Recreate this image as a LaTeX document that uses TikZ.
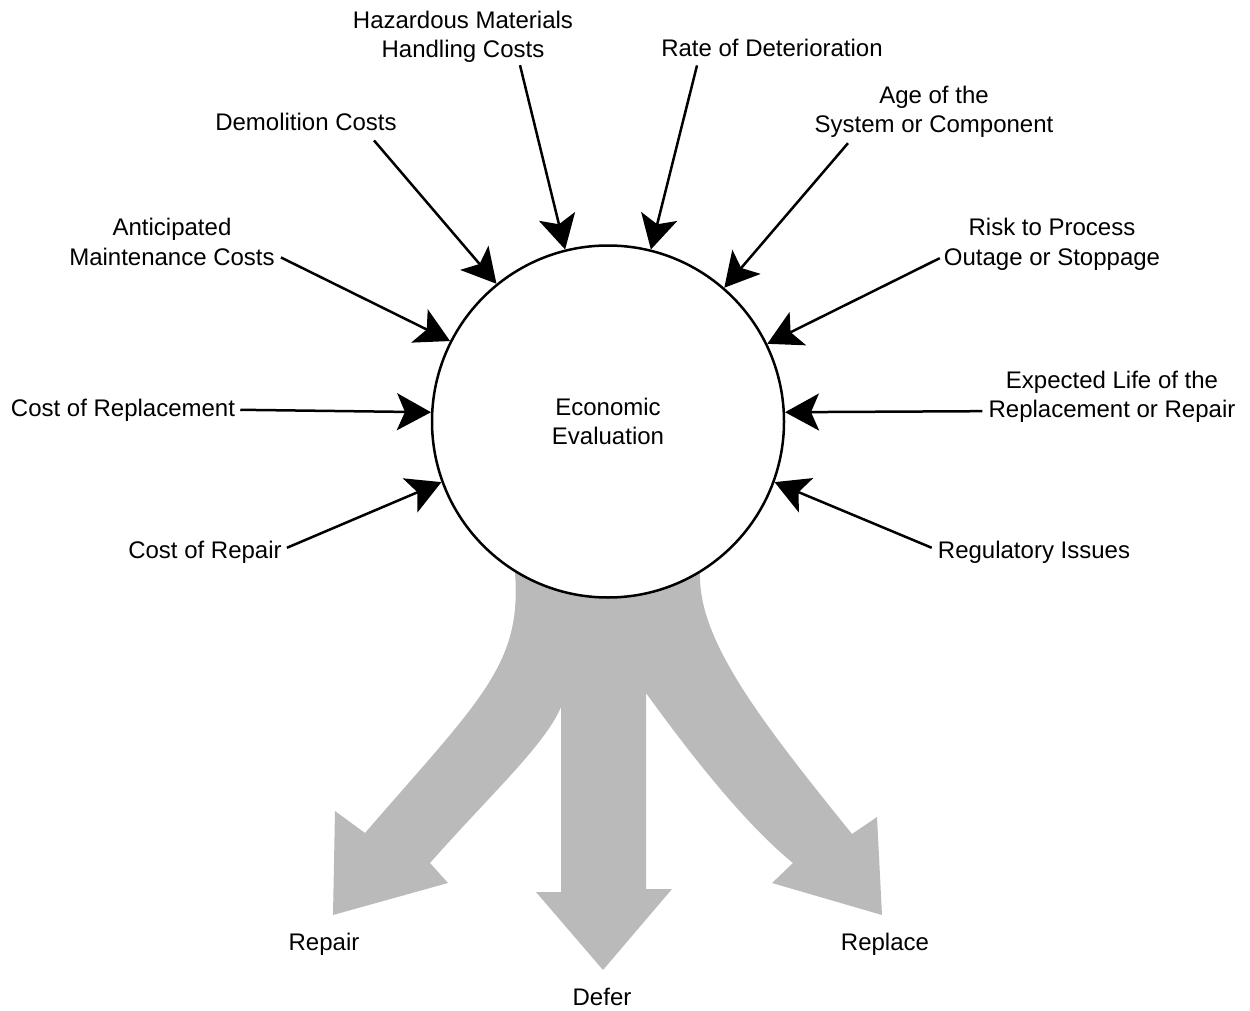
\documentclass[tikz,border=0pt]{standalone}
\usepackage{fontspec}
\setmainfont{Liberation Sans}
\usetikzlibrary{arrows.meta}
\definecolor{flowgray}{RGB}{186,186,186}

\begin{document}
\begin{tikzpicture}[x=1pt, y=-1pt,
		factor/.style={align=center, inner sep=2pt, anchor=base, font=\fontsize{24}{29}\selectfont},
		feed/.style={line width=2.5pt, -{Stealth[length=34pt, width=37pt, inset=8pt]}}]
	\useasboundingbox (0,0) rectangle (1250,1011);
	
	\def\cx{608}
	\def\cy{421.5}
	
	% the three outcomes, under the circle
	\fill [flowgray] (515,540) -- (515,573) .. controls (522,665) and (480,700) .. (365,833)
		-- (335,811) -- (333,915) -- (448,883) -- (430,863)
		.. controls (490,795) and (545,745) .. (561,707)
		-- (561,892) -- (536,892) -- (603,970) -- (672,889) -- (646,889) -- (646,693)
		.. controls (680,740) and (740,820) .. (793,863)
		-- (772,883) -- (882,915) -- (877,817) -- (852,834)
		.. controls (760,720) and (698,640) .. (700,573) -- (700,540) -- cycle;
	
	\node [circle, draw, fill=white, line width=2.5pt, minimum size=352pt, inner sep=0pt,
		align=center, font=\fontsize{24}{29}\selectfont] (eval) at (\cx,\cy) {Economic\\Evaluation};
	
	% factors (base = last line)
	\node [factor] (hazmat) at (463,58) {Hazardous Materials\\Handling Costs};
	\node [factor] (ratedet) at (772,57) {Rate of Deterioration};
	\node [factor] (demol) at (306,131) {Demolition Costs};
	\node [factor] (age) at (934,133) {Age of the\\System or Component};
	\node [factor] (maint) at (172,265) {Anticipated\\Maintenance Costs};
	\node [factor] (risk) at (1052,265) {Risk to Process\\Outage or Stoppage};
	\node [factor] (replcost) at (123,416) {Cost of Replacement};
	\node [factor] (life) at (1112,417) {Expected Life of the\\Replacement or Repair};
	\node [factor] (repcost) at (205,558) {Cost of Repair};
	\node [factor] (regul) at (1034,558) {Regulatory Issues};
	
	\begin{scope}[feed]
		\draw ([xshift=57pt]hazmat.south) -- (eval.104);
		\draw ([xshift=-75pt, yshift=-6pt]ratedet.south) -- (eval.76);
		\draw ([xshift=68pt, yshift=-7pt]demol.south) -- (eval.129);
		\draw ([xshift=-86pt, yshift=-3pt]age.south) -- (eval.49);
		\draw ([xshift=4pt, yshift=10pt]maint.south east) -- (eval.153);
		\draw ([xshift=-2pt, yshift=14pt]risk.south west) -- (eval.26);
		\draw ([xshift=3pt]replcost.east) -- (eval.177);
		\draw ([xshift=-4pt, yshift=13pt]life.south west) -- (eval.3);
		\draw ([xshift=3pt, yshift=4pt]repcost.east) -- (eval.200);
		\draw ([xshift=-4pt, yshift=4pt]regul.west) -- (eval.340);
	\end{scope}
	
	% outcomes
	\node [factor] (repair) at (324,950) {Repair};
	\node [factor] (defer) at (602,1005) {Defer};
	\node [factor] (replace) at (885,950) {Replace};
\end{tikzpicture}
\end{document}
